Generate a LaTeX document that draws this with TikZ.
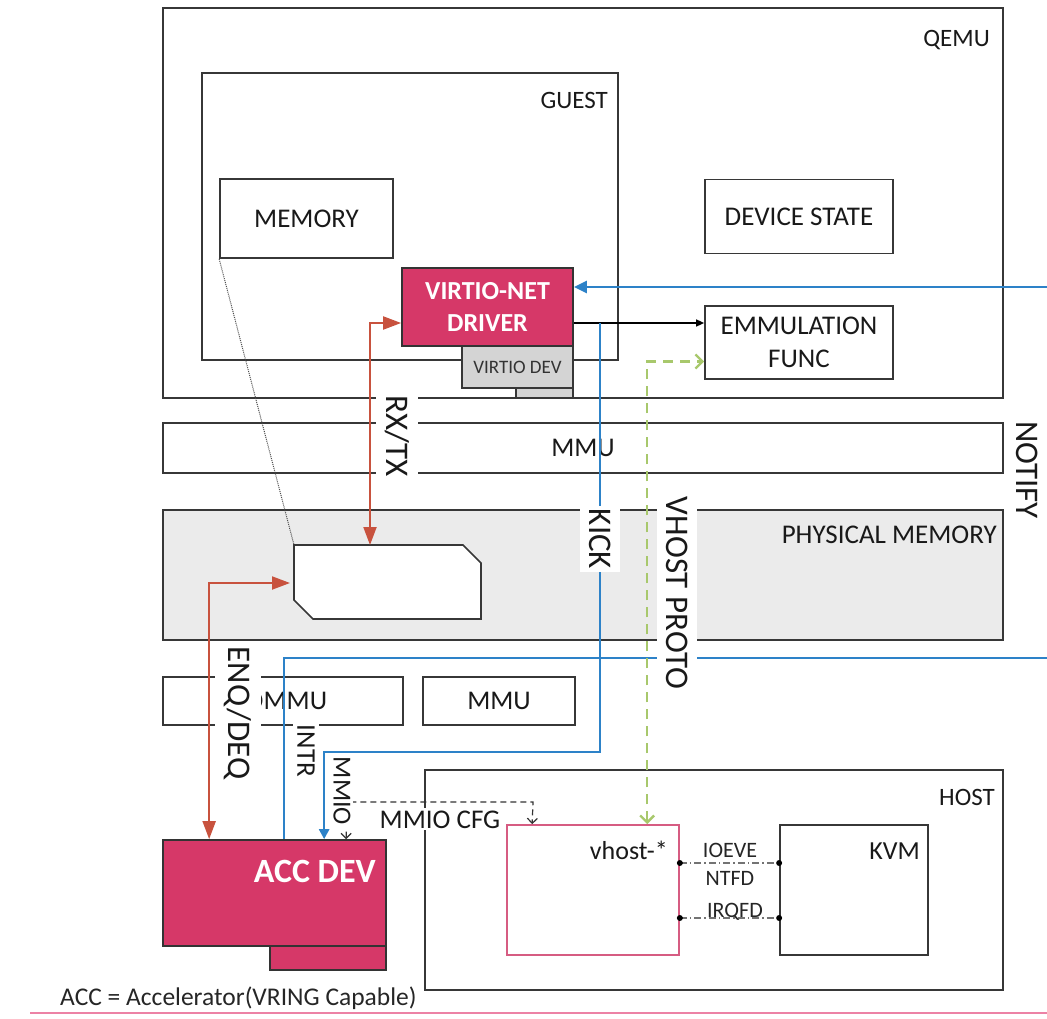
\documentclass[tikz,border=0pt]{standalone}
\usepackage{fontspec}
\setmainfont{Carlito}
\usetikzlibrary{arrows.meta}

\definecolor{accpink}{RGB}{214,56,104}
\definecolor{vhostpink}{RGB}{214,92,130}
\definecolor{linepink}{RGB}{236,130,165}
\definecolor{notifyblue}{RGB}{45,130,200}
\definecolor{ringred}{RGB}{200,82,62}
\definecolor{protogreen}{RGB}{168,200,108}
\definecolor{boxgray}{RGB}{55,55,55}

\begin{document}
\begin{tikzpicture}[x=1pt, y=-1pt,
  box/.style={draw=boxgray, line width=1.7pt, inner sep=0pt},
  boxtext/.style={font=\fontsize{27}{33}\selectfont, text=black!90, align=center},
  cornertext/.style={font=\fontsize{25}{28}\selectfont, text=black!90, inner sep=0pt, anchor=base east},
  pinkbox/.style={box, draw=black!80, fill=accpink},
  sidetext/.style={font=\fontsize{33}{36}\selectfont, text=black!90, rotate=-90, fill=white, inner xsep=3pt, inner ysep=9pt},
  rxtx/.style={draw=ringred, line width=2pt, <->, >={Triangle[length=18pt,width=13pt]}},
  notify/.style={draw=notifyblue, line width=2.6pt},
  proto/.style={draw=protogreen, line width=2.4pt, dash pattern=on 10pt off 7pt, <->, >={Straight Barb[length=7pt,width=14pt]}},
  mmio/.style={draw=black!80, line width=1.2pt, dash pattern=on 6pt off 4pt, <->, >={Straight Barb[length=5pt,width=10pt]}},
  fdline/.style={draw=black!55, line width=1.5pt, dash pattern=on 7pt off 3pt on 1.5pt off 3pt},
  smalltext/.style={font=\fontsize{22}{24}\selectfont, text=black!85, inner sep=0pt, anchor=base}
]

  \def\dotradius{3pt}

  \useasboundingbox (0,0) rectangle (1047,1019);

  % QEMU - outer box, guest inside
  \node[box, minimum width=840pt, minimum height=390pt] (qemu) at (583,203) {};
  \node[cornertext] (qemulbl) at (990,47) {QEMU};
  \node[box, minimum width=416pt, minimum height=287pt] (guest) at (410,216.5) {};
  \node[cornertext] (guestlbl) at (608,109) {GUEST};

  \node[box, boxtext, minimum width=173pt, minimum height=79pt] (mem) at (306.5,218.5) {MEMORY};
  \node[box, boxtext, minimum width=188pt, minimum height=74pt] (devstate) at (799,216.5) {DEVICE STATE};
  \node[box, boxtext, minimum width=188pt, minimum height=73pt] (emu) at (799,342.5) {EMMULATION\\FUNC};

  % virtio-net driver - pink, with the gray device under it
  \node[box, fill=black!17, minimum width=57pt, minimum height=10pt] (vstrip) at (544.5,393) {};
  \node[box, fill=black!17, font=\fontsize{19}{21}\selectfont, text=black!80,
        minimum width=111pt, minimum height=42pt] (vdev) at (517.5,367) {VIRTIO DEV};
  \node[pinkbox, boxtext, text=white, font=\bfseries\fontsize{26}{32}\selectfont,
        minimum width=171pt, minimum height=78pt] (driver) at (487.5,307) {VIRTIO-NET\\DRIVER};

  % MMU band
  \node[box, boxtext, minimum width=840pt, minimum height=50pt] (mmu) at (583,448) {MMU};

  % physical memory band - vring inside
  \node[box, fill=black!8, minimum width=840pt, minimum height=130pt] (phys) at (583,575) {};
  \node[cornertext, font=\fontsize{27}{28}\selectfont] (physlbl) at (997,543) {PHYSICAL MEMORY};
  \draw[draw=boxgray, line width=1.7pt, fill=white]
    (294,545) -- (463,545) -- (481,563) -- (481,619) -- (313,619) -- (294,600) -- cycle;
  \coordinate (ringtl) at (294,545);
  \coordinate (ringtop) at (370,545);
  \coordinate (ringleft) at (290,583);

  % IOMMU and MMU
  \node[box, boxtext, minimum width=240pt, minimum height=48pt] (iommu) at (283,701) {IOMMU};
  \node[box, boxtext, minimum width=152pt, minimum height=48pt] (hmmu) at (499,701) {MMU};

  % HOST - vhost and kvm
  \node[box, minimum width=578pt, minimum height=220pt] (host) at (714,880) {};
  \node[cornertext] (hostlbl) at (995,805) {HOST};
  \node[box, draw=vhostpink, minimum width=172pt, minimum height=130pt] (vhost) at (593,890) {};
  \node[cornertext, font=\fontsize{26}{28}\selectfont] (vhostlbl) at (668,859) {vhost-*};
  \node[box, minimum width=148pt, minimum height=130pt] (kvm) at (854,890) {};
  \node[cornertext, font=\fontsize{26}{28}\selectfont] (kvmlbl) at (920,859) {KVM};

  % ACC DEV
  \node[pinkbox, minimum width=116pt, minimum height=24pt] (accstrip) at (328,958) {};
  \node[pinkbox, minimum width=223pt, minimum height=106pt] (accdev) at (274.5,893) {};
  \node[cornertext, text=white, font=\bfseries\fontsize{34}{36}\selectfont] (acclbl) at (376,882) {ACC DEV};
  \node[anchor=base west, inner sep=0pt, font=\fontsize{25.5}{27}\selectfont, text=black!85]
    (note) at (60,1005) {ACC = Accelerator(VRING Capable)};
  \draw[draw=linepink, line width=1.5pt] (30,1013) -- (1047,1013);

  % guest memory is the vring
  \draw[black!70, line width=1pt, densely dotted] (mem.south west) -- (ringtl);

  % RX/TX and ENQ/DEQ
  \coordinate (k0) at (600,323);
  \draw[rxtx] (driver.west |- k0) -| (ringtop);
  \draw[rxtx] (ringleft) -| ([xshift=47pt]accdev.north west);

  \draw[black, line width=1.4pt, -{Triangle[length=8pt,width=7pt]}] (driver.east |- k0) -- (emu.west |- k0);

  % NOTIFY - runs off the right side
  \coordinate (n1) at (1047,287);
  \coordinate (n2) at (1047,658);
  \draw[notify, -{Triangle[length=13pt,width=12pt]}] (n1) -- (n1 -| driver.east);
  \draw[notify] (n2) -| ([xshift=122pt]accdev.north west);

  % KICK, comes back as INTR
  \draw[notify, -{Triangle[length=10pt,width=10pt]}] (k0) -- (600,752) -| ([xshift=162pt]accdev.north west);

  % VHOST PROTO
  \draw[proto] ([xshift=141pt]vhost.north west) |- ([yshift=-19pt]emu.west);

  % MMIO CFG
  \coordinate (m1) at (533,802);
  \draw[mmio] ([xshift=184pt]accdev.north west) |- (m1) -- ([xshift=26pt]vhost.north west);

  % ioeventfd / irqfd
  \coordinate (io1) at ([yshift=27pt]vhost.east);
  \coordinate (io2) at ([yshift=27pt]kvm.west);
  \coordinate (irq1) at ([yshift=-28pt]vhost.east);
  \coordinate (irq2) at ([yshift=-28pt]kvm.west);
  \draw[fdline] (io1) -- (io2);
  \draw[fdline] (irq1) -- (irq2);
  \foreach \p in {io1,io2,irq1,irq2} {
    \fill (\p) circle (\dotradius);
  }
  \node[smalltext] (ioeve) at (730,857) {IOEVE};
  \node[smalltext] (ntfd) at (730,885) {NTFD};
  \node[smalltext] (irqfd) at (735,917) {IRQFD};

  % rotated labels
  \node[sidetext] (rxtxlbl) at (397,436) {RX/TX};
  \node[sidetext] (kicklbl) at (600,539) {KICK};
  \node[sidetext] (protolbl) at (677,593) {VHOST PROTO};
  \node[sidetext] (enqlbl) at (238,713) {ENQ/DEQ};
  \node[sidetext, fill=none] (notifylbl) at (1027,470) {NOTIFY};
  \node[sidetext, font=\fontsize{27}{29}\selectfont, inner ysep=4pt] (intrlbl) at (306,751) {INTR};
  \node[sidetext, font=\fontsize{26}{28}\selectfont, inner ysep=2pt] (mmiolbl) at (342,791) {MMIO};
  \node[anchor=base, fill=white, inner sep=2pt, font=\fontsize{27}{29}\selectfont, text=black!90]
    (cfglbl) at (440,828) {MMIO CFG};

\end{tikzpicture}
\end{document}
